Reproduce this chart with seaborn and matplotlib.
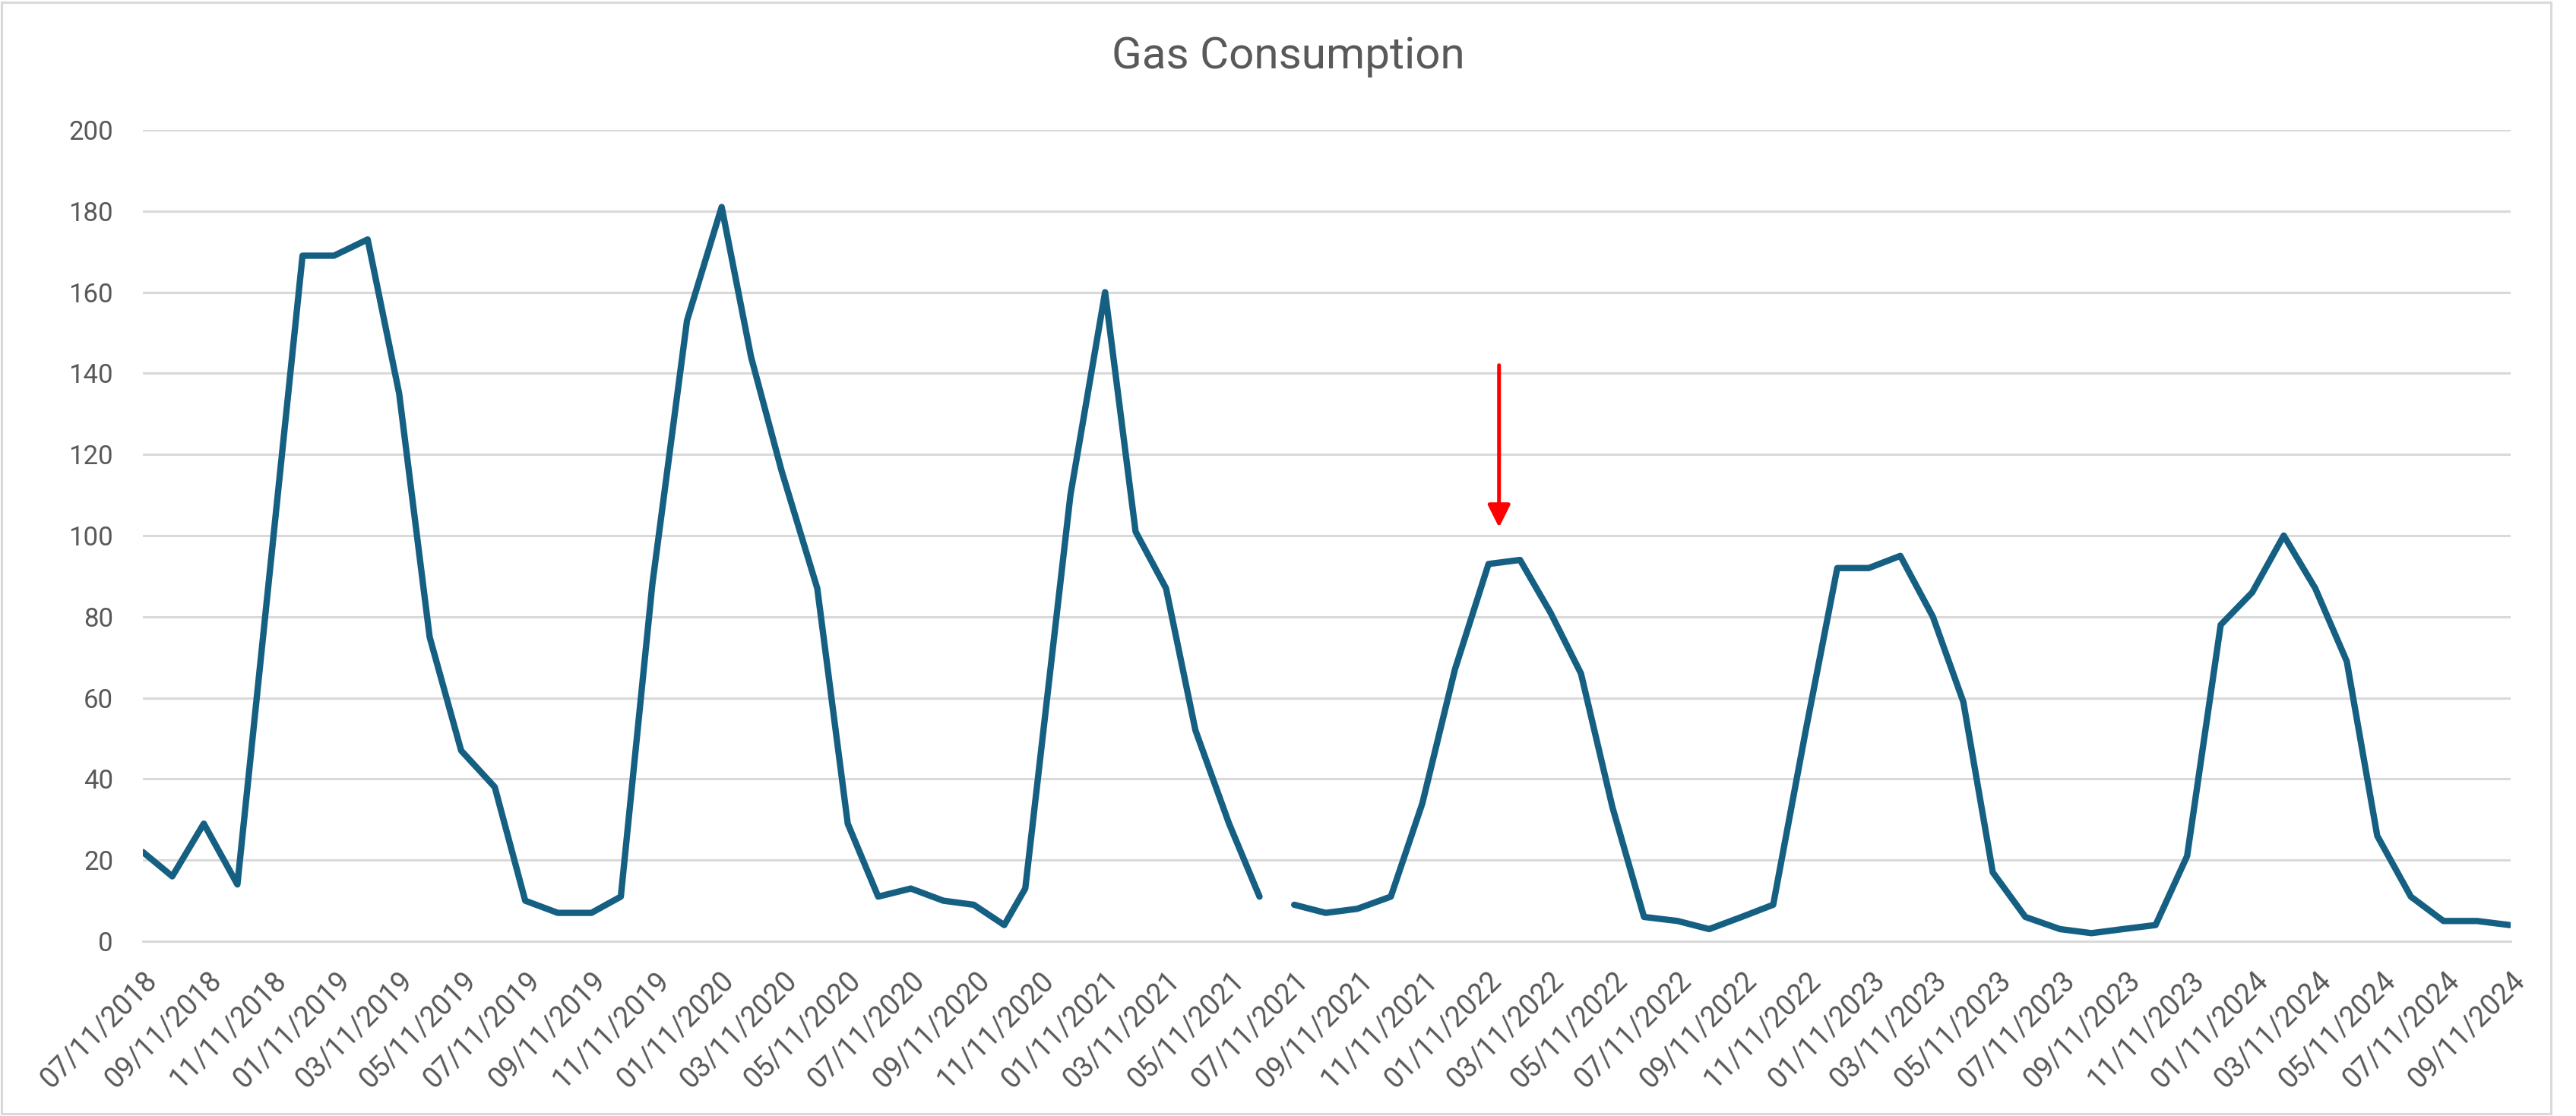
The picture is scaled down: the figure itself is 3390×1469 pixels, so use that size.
import pandas as pd
import numpy as np
import matplotlib
matplotlib.use("Agg")
import matplotlib.pyplot as plt
import matplotlib.dates as mdates
from matplotlib.patches import Rectangle
import seaborn as sns

# readings (date, gas) - one blank reading in late June 2021 breaks the line
dates = [
    "2018-07-11", "2018-08-08", "2018-09-07", "2018-10-09", "2018-12-10",
    "2019-01-09", "2019-02-10", "2019-03-12", "2019-04-10", "2019-05-10",
    "2019-06-11", "2019-07-10", "2019-08-10", "2019-09-11", "2019-10-09",
    "2019-11-08", "2019-12-11", "2020-01-13", "2020-02-10", "2020-03-10",
    "2020-04-13", "2020-05-12", "2020-06-10", "2020-07-11", "2020-08-11",
    "2020-09-09", "2020-10-08", "2020-10-28", "2020-12-10", "2021-01-12",
    "2021-02-10", "2021-03-11", "2021-04-08", "2021-05-10", "2021-06-08",
    "2021-06-25", "2021-07-11", "2021-08-10", "2021-09-09", "2021-10-11",
    "2021-11-10", "2021-12-11", "2022-01-12", "2022-02-11", "2022-03-12",
    "2022-04-10", "2022-05-10", "2022-06-09", "2022-07-11", "2022-08-10",
    "2022-09-10", "2022-10-10", "2022-11-10", "2022-12-10", "2023-01-09",
    "2023-02-08", "2023-03-11", "2023-04-09", "2023-05-07", "2023-06-07",
    "2023-07-10", "2023-08-09", "2023-09-08", "2023-10-09", "2023-11-08",
    "2023-12-10", "2024-01-09", "2024-02-08", "2024-03-09", "2024-04-08",
    "2024-05-07", "2024-06-08", "2024-07-09", "2024-08-10", "2024-09-10",
]
gas = [
    22, 16, 29, 14, 169,
    169, 173, 135, 75, 47,
    38, 10, 7, 7, 11,
    88, 153, 181, 144, 116,
    87, 29, 11, 13, 10,
    9, 4, 13, 110, 160,
    101, 87, 52, 29, 11,
    np.nan, 9, 7, 8, 11,
    34, 67, 93, 94, 81,
    66, 33, 6, 5, 3,
    6, 9, 52, 92, 92,
    95, 80, 59, 17, 6,
    3, 2, 3, 4, 21,
    78, 86, 100, 87, 69,
    26, 11, 5, 5, 4,
]

arrow_date = "2022-01-22"
arrow_from = 142
arrow_to = 102

df = pd.DataFrame({"date": pd.to_datetime(dates), "gas": gas})
df["seg"] = df["gas"].isna().cumsum()
df = df.dropna()

sns.set_style("white")
plt.rcParams["font.family"] = ["Roboto", "DejaVu Sans"]

grey = "#595959"
light = "#d9d9d9"

fig = plt.figure(figsize=(16.95, 7.345), dpi=200)
ax = fig.add_axes([188 / 3390, 1 - 1239 / 1469, (3304 - 188) / 3390, (1239 - 171) / 1469])

sns.lineplot(data=df, x="date", y="gas", units="seg", estimator=None,
             color="#156082", linewidth=3.0, ax=ax, legend=False)
for ln in ax.lines:
    ln.set_solid_joinstyle("round")
    ln.set_solid_capstyle("round")

ax.annotate("", xy=(pd.Timestamp(arrow_date), arrow_to),
            xytext=(pd.Timestamp(arrow_date), arrow_from),
            arrowprops=dict(arrowstyle="-|>,head_length=0.9,head_width=0.45",
                            color="red", lw=1.8, shrinkA=0, shrinkB=0))

ax.set_xlim(pd.Timestamp("2018-07-11"), pd.Timestamp("2024-09-11"))
ax.set_ylim(0, 200)
ax.set_yticks(range(0, 201, 20))
ax.xaxis.set_major_locator(mdates.MonthLocator(bymonth=[1, 3, 5, 7, 9, 11], bymonthday=11))
ax.xaxis.set_major_formatter(mdates.DateFormatter("%m/%d/%Y"))

ax.grid(axis="y", color=light, linewidth=1.1)
ax.set_axisbelow(True)
for s in ["left", "top", "right"]:
    ax.spines[s].set_visible(False)
ax.spines["bottom"].set_color(light)
ax.spines["bottom"].set_linewidth(1.1)

ax.tick_params(axis="y", length=0, pad=14, labelsize=12.5, labelcolor=grey)
ax.tick_params(axis="x", length=4.7, width=1.1, color=light, pad=7,
               labelsize=13.5, labelcolor=grey)
for lab in ax.get_xticklabels():
    lab.set_rotation(45)
    lab.set_ha("right")
    lab.set_va("top")
    lab.set_rotation_mode("anchor")

ax.set_xlabel("")
ax.set_ylabel("")
fig.text(0.5, 1 - 75 / 1469, "Gas Consumption", ha="center", va="center",
         fontsize=21, color=grey)

fig.add_artist(Rectangle((2 / 3390, 3 / 1469), 3355 / 3390, 1463 / 1469,
                         transform=fig.transFigure, fill=False,
                         edgecolor=light, linewidth=1.1))

fig.savefig("out.png", dpi=200)
